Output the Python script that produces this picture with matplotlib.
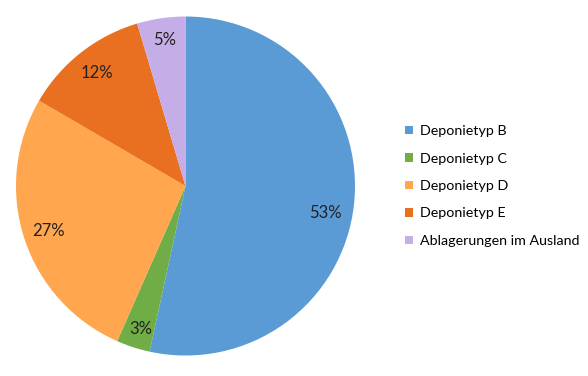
import matplotlib
matplotlib.use("Agg")
import matplotlib.pyplot as plt
from matplotlib.patches import Patch

categories = ["Deponietyp B", "Deponietyp C", "Deponietyp D", "Deponietyp E", "Ablagerungen im Ausland"]
values = [53.4, 3.2, 26.8, 12.0, 4.6]
colors = ["#5B9BD5", "#70AD47", "#FFA64F", "#E97020", "#C5AEE8"]

plt.rcParams['font.family'] = ['Lato', 'DejaVu Sans']

W, H = 588, 376
fig = plt.figure(figsize=(W / 100, H / 100), dpi=100)
cx, cy, r = 185.5, 186.0, 169.5
ax = fig.add_axes([(cx - r) / W, (H - cy - r) / H, 2 * r / W, 2 * r / H])

wedges, texts, autotexts = ax.pie(
    values, colors=colors, startangle=90, counterclock=False,
    autopct=lambda p: f"{int(p + 0.5)}%", pctdistance=0.85,
    wedgeprops=dict(linewidth=0),
    textprops=dict(fontsize=12, color="#222222"),
)
# small label nudges (Excel best-fit placement)
nudges = [(-0.02, -0.07), (0.0, -0.035), (0.0, 0.0), (0.0, 0.0), (0.0, 0.02)]
for t, (dx, dy) in zip(autotexts, nudges):
    x, y = t.get_position()
    t.set_position((x + dx, y + dy))

ax.set_xlim(-1, 1)
ax.set_ylim(-1, 1)
ax.set_aspect("equal")
ax.axis("off")

handles = [Patch(facecolor=c, edgecolor="none") for c in colors]
fig.legend(handles, categories, loc="center left",
           bbox_to_anchor=(405 / W, 1 - 186 / H), frameon=False,
           fontsize=10.3, labelspacing=1.08, handlelength=0.55, handleheight=0.55,
           handletextpad=0.5, borderaxespad=0, borderpad=0)

fig.savefig("out.png", dpi=100, facecolor="white")
